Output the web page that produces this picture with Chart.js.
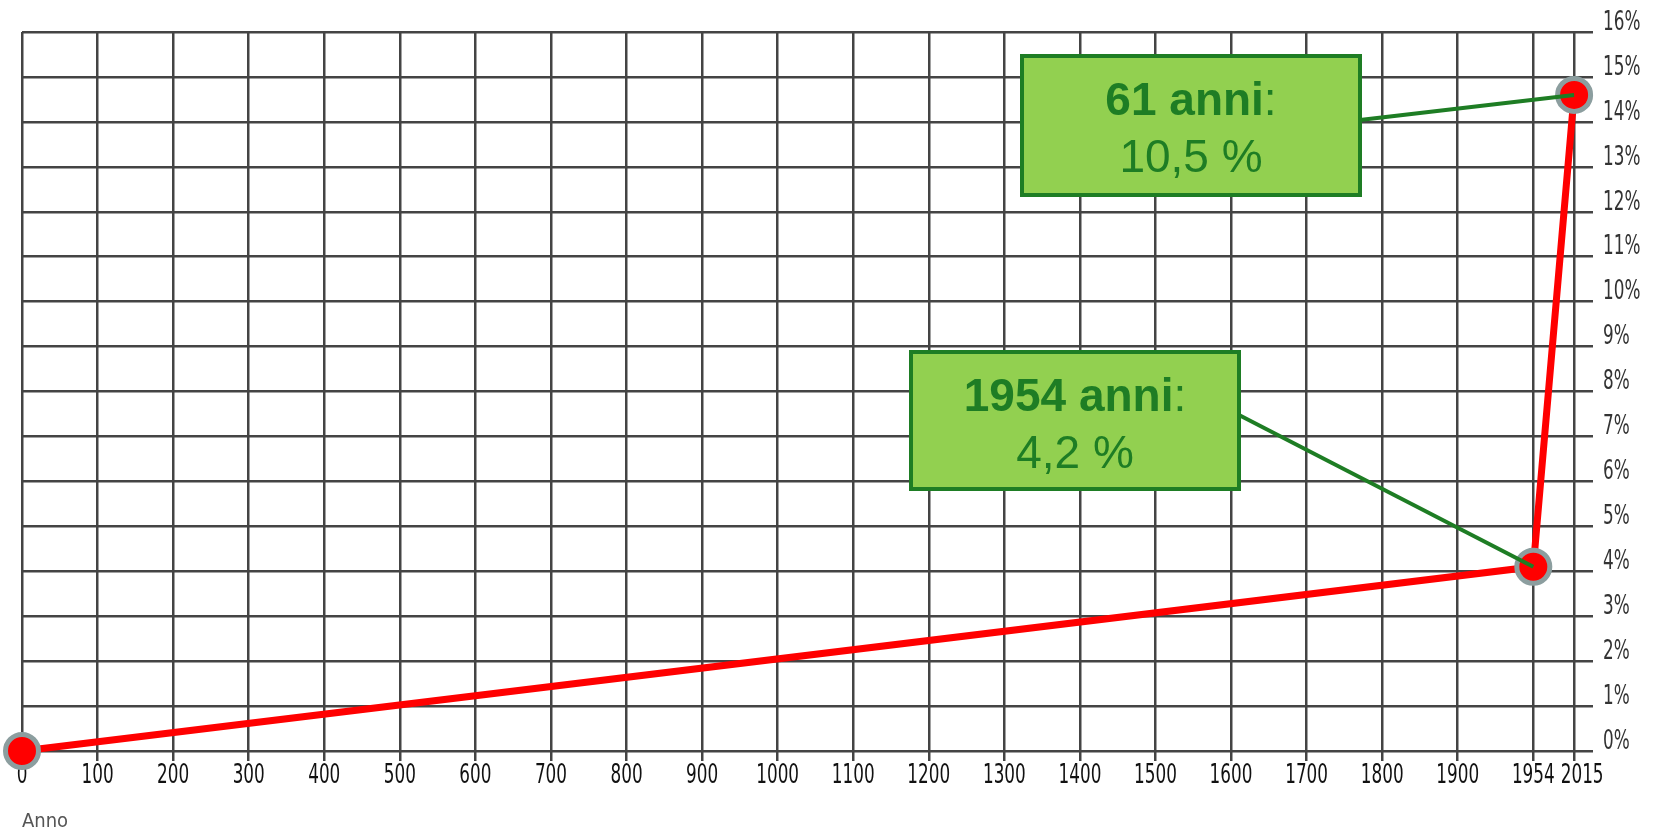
<!DOCTYPE html>
<html>
<head>
<meta charset="utf-8">
<script src="https://cdn.jsdelivr.net/npm/chart.js@4/dist/chart.umd.min.js"></script>
<style>
	html, body { margin: 0; padding: 0; background: #fff; }
	#wrap { width: 1663px; height: 836px; }
</style>
</head>
<body>
<div id="wrap"><canvas id="chart"></canvas></div>
<script>
// values
const years = [0, 1954, 2015];
const shares = [0, 4.1, 14.6];
const xTicks = [0, 100, 200, 300, 400, 500, 600, 700, 800, 900, 1000,
	1100, 1200, 1300, 1400, 1500, 1600, 1700, 1800, 1900, 1954, 2015];
const notes = [
	{ point: 2, bold: "61 anni", value: "10,5 %" },
	{ point: 1, bold: "1954 anni", value: "4,2 %" },
];

// the original axis is broken after 1900: 1954 sits on the next grid step
const breakYears = [0, 1900, 1954, 2015];
const breakSteps = [0, 1900, 2000, 2054];

// where the boxes sit (pixels)
const boxes = [
	{ left: 1022, top: 56, width: 338, height: 139 },
	{ left: 911, top: 352, width: 328, height: 137 },
];

const narrow = "'Liberation Sans Narrow', 'DejaVu Sans Condensed', sans-serif";
const squeeze = 0.72; // tick labels in the original are tall and narrow
const green = "#1e7d24";
const gridColor = "#444";

function warp(v) {
	for (let i = 1; i < breakYears.length; i++) {
		if (v <= breakYears[i]) {
			const t = (v - breakYears[i - 1]) / (breakYears[i] - breakYears[i - 1]);
			return breakSteps[i - 1] + t * (breakSteps[i] - breakSteps[i - 1]);
		}
	}
	const last = breakYears.length - 1;
	return breakSteps[last] + (v - breakYears[last]);
}

function drawNarrowLabels(scale, chartArea) {
	const ctx = scale.ctx;
	let prevRight = -Infinity;
	for (const item of scale.getLabelItems(chartArea)) {
		const o = item.options;
		let tx = o.translation[0];
		ctx.save();
		ctx.font = item.font.string;
		if (scale.isHorizontal()) {
			// push a label right when it would run into the previous one
			const w = ctx.measureText(item.label).width * squeeze;
			if (tx - w / 2 < prevRight + 6) tx = prevRight + 6 + w / 2;
			prevRight = tx + w / 2;
		}
		ctx.translate(tx, o.translation[1]);
		ctx.scale(squeeze, 1);
		ctx.fillStyle = o.color;
		ctx.textAlign = o.textAlign;
		ctx.textBaseline = o.textBaseline;
		ctx.fillText(item.label, 0, item.textOffset);
		ctx.restore();
	}
}

class NarrowScale extends Chart.LinearScale {
	drawLabels(chartArea) {
		drawNarrowLabels(this, chartArea);
	}
}
NarrowScale.id = "narrow";
NarrowScale.defaults = Chart.LinearScale.defaults;

class BrokenScale extends NarrowScale {
	buildTicks() {
		return xTicks.map((v) => ({ value: v }));
	}
	getPixelForValue(v) {
		return this.getPixelForDecimal((warp(v) - warp(this.min)) / (warp(this.max) - warp(this.min)));
	}
	getValueForPixel(p) {
		const d = this.getDecimalForPixel(p) * warp(this.max);
		let best = 0;
		for (let y = 0; y <= this.max; y++) {
			if (Math.abs(warp(y) - d) < Math.abs(warp(best) - d)) best = y;
		}
		return best;
	}
}
BrokenScale.id = "broken";
BrokenScale.defaults = Chart.LinearScale.defaults;
Chart.register(NarrowScale, BrokenScale);

const notesPlugin = {
	id: "notes",
	afterDatasetsDraw(chart) {
		const ctx = chart.ctx;
		const xs = chart.scales.x;
		const ys = chart.scales.y;
		notes.forEach((note, i) => {
			const b = boxes[i];
			const px = xs.getPixelForValue(years[note.point]);
			const py = ys.getPixelForValue(shares[note.point]);
			ctx.save();
			// connector
			ctx.strokeStyle = green;
			ctx.lineWidth = 4;
			ctx.beginPath();
			ctx.moveTo(b.left + b.width, b.top + b.height * 0.46);
			ctx.lineTo(px, py);
			ctx.stroke();
			// box
			ctx.fillStyle = "#92d050";
			ctx.fillRect(b.left, b.top, b.width, b.height);
			ctx.lineWidth = 4;
			ctx.strokeRect(b.left, b.top, b.width, b.height);
			// text
			const cx = b.left + b.width / 2;
			ctx.fillStyle = green;
			ctx.textBaseline = "alphabetic";
			ctx.font = "bold 46px 'Liberation Sans', Arial, sans-serif";
			const wBold = ctx.measureText(note.bold).width;
			ctx.font = "46px 'Liberation Sans', Arial, sans-serif";
			const wColon = ctx.measureText(":").width;
			const x0 = cx - (wBold + wColon) / 2;
			ctx.textAlign = "left";
			ctx.font = "bold 46px 'Liberation Sans', Arial, sans-serif";
			ctx.fillText(note.bold, x0, b.top + 59);
			ctx.font = "46px 'Liberation Sans', Arial, sans-serif";
			ctx.fillText(":", x0 + wBold, b.top + 59);
			ctx.textAlign = "center";
			ctx.fillText(note.value, cx, b.top + 116);
			ctx.restore();
		});
	},
};

new Chart(document.querySelector("#chart"), {
	type: "line",
	data: {
		datasets: [
			{
				label: "Quota",
				data: years.map((y, i) => ({ x: y, y: shares[i] })),
				borderColor: "#ff0000",
				borderWidth: 7,
				pointRadius: 16.5,
				pointBorderWidth: 5,
				pointBackgroundColor: "#ff0000",
				pointBorderColor: "#8c9e9f",
				tension: 0,
				clip: false,
			},
		],
	},
	options: {
		responsive: true,
		maintainAspectRatio: false,
		animation: false,
		layout: { padding: { left: 22, right: 0, top: 32, bottom: 0 } },
		plugins: {
			legend: { display: false },
			tooltip: { enabled: false },
		},
		scales: {
			x: {
				type: "broken",
				min: 0,
				max: 2040,
				grid: { color: gridColor, lineWidth: 2.5, tickLength: 10, tickColor: gridColor },
				border: { display: false },
				afterFit: (scale) => { scale.height = 85; },
				ticks: {
					autoSkip: false,
					maxRotation: 0,
					padding: 0,
					color: "#111",
					font: { family: narrow, size: 26 },
					callback: (v) => String(v),
				},
				title: {
					display: true,
					text: "Anno",
					align: "start",
					color: "#555",
					font: { family: narrow, size: 20 },
					padding: { top: 0, bottom: 2 },
				},
			},
			y: {
				type: "narrow",
				position: "right",
				min: 0,
				max: 16,
				grid: { color: gridColor, lineWidth: 2.5, drawTicks: false },
				border: { display: false },
				afterFit: (scale) => { scale.width = 70; },
				ticks: {
					stepSize: 1,
					padding: 10,
					labelOffset: -9,
					color: "#333",
					font: { family: narrow, size: 26 },
					callback: (v) => v + "%",
				},
			},
		},
	},
	plugins: [notesPlugin],
});
</script>
</body>
</html>
